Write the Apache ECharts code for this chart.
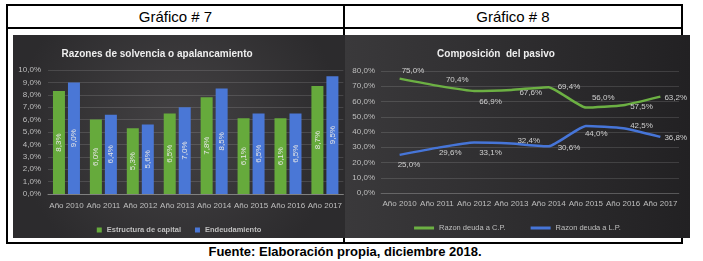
<!DOCTYPE html>
<html>
<head>
<meta charset="utf-8">
<script src="https://cdn.jsdelivr.net/npm/echarts@6/dist/echarts.min.js"></script>
<style>
  body { margin: 0; background: #fff; width: 703px; height: 261px; overflow: hidden; position: relative; font-family: "Liberation Sans", Arial, sans-serif; }
  .ln { position: absolute; background: #000; }
  .hd { position: absolute; top: 5px; height: 23px; line-height: 23px; text-align: center; font-size: 15px; color: #000; }
  #g7 { position: absolute; left: 13px; top: 35px; width: 332px; height: 203px; }
  #g8 { position: absolute; left: 345px; top: 35px; width: 345px; height: 203px; }
  #fuente { position: absolute; left: 0; width: 690px; top: 244px; text-align: center; font-weight: bold; font-size: 13px; color: #000; }
</style>
</head>
<body>
<!-- marco de la tabla -->
<div class="ln" style="left:6px;top:4px;width:677px;height:2px"></div>
<div class="ln" style="left:6px;top:27px;width:677px;height:2px"></div>
<div class="ln" style="left:6px;top:242px;width:677px;height:2px"></div>
<div class="ln" style="left:6px;top:4px;width:2px;height:240px"></div>
<div class="ln" style="left:343px;top:4px;width:2px;height:240px"></div>
<div class="ln" style="left:681px;top:4px;width:2px;height:240px"></div>
<div class="hd" style="left:8px;width:335px">Gráfico # 7</div>
<div class="hd" style="left:345px;width:336px">Gráfico # 8</div>
<div id="g7"></div>
<div id="g8"></div>
<div id="fuente">Fuente: Elaboración propia, diciembre 2018.</div>
<script>
// datos
var anios = ['Año 2010', 'Año 2011', 'Año 2012', 'Año 2013', 'Año 2014', 'Año 2015', 'Año 2016', 'Año 2017'];
var estructuraCapital = [8.3, 6.0, 5.3, 6.5, 7.8, 6.1, 6.1, 8.7];
var endeudamiento = [9.0, 6.4, 5.6, 7.0, 8.5, 6.5, 6.5, 9.5];
var deudaCP = [75.0, 70.4, 66.9, 67.6, 69.4, 56.0, 57.5, 63.2];
var deudaLP = [25.0, 29.6, 33.1, 32.4, 30.6, 44.0, 42.5, 36.8];

// desplazamiento de etiquetas (estilo)
var offCP = [[-2, -8], [5, -6], [1, 11], [4, 3], [5, 0], [2, -10], [3, 1], [0, 1]];
var offLP = [[-6, 10], [-2, 5], [1, 10], [2, -3], [5, 1], [-5, 8], [3, -2], [0, 1]];

function pct(v) {
    return v.toFixed(1).replace('.', ',') + '%';
}

var txt = '#bfbfbf';
var grisLinea = 'rgba(255,255,255,0.13)';

// Gráfico 7
var chart7 = echarts.init(document.getElementById('g7'));
chart7.setOption({
    animation: false,
    backgroundColor: new echarts.graphic.RadialGradient(0.5, 0.45, 0.8, [
        { offset: 0, color: '#444244' },
        { offset: 1, color: '#2c2b2d' }
    ]),
    title: {
        text: 'Razones de solvencia o apalancamiento',
        left: 139,
        textAlign: 'center',
        top: 9,
        textStyle: { color: '#eeeeee', fontSize: 10, fontWeight: 'bold', fontFamily: 'Liberation Sans' }
    },
    grid: { left: 35, right: 1, top: 35, bottom: 44 },
    legend: {
        data: ['Estructura de capital', 'Endeudamiento'],
        left: 'center',
        top: 186,
        icon: 'rect',
        itemWidth: 5,
        itemHeight: 5,
        itemGap: 14,
        textStyle: { color: txt, fontSize: 7.5, fontWeight: 'bold', fontFamily: 'Liberation Sans' }
    },
    xAxis: {
        type: 'category',
        data: anios,
        axisTick: { show: false },
        axisLine: { lineStyle: { color: '#808080' } },
        axisLabel: { interval: 0, color: txt, fontSize: 8, margin: 8, fontFamily: 'Liberation Sans' }
    },
    yAxis: {
        type: 'value',
        min: 0,
        max: 10,
        interval: 1,
        axisLabel: { color: txt, fontSize: 8, margin: 7, fontFamily: 'Liberation Sans', formatter: pct },
        splitLine: { lineStyle: { color: grisLinea } }
    },
    series: [{
        name: 'Estructura de capital',
        type: 'bar',
        data: estructuraCapital,
        barWidth: 12,
        barGap: '25%',
        itemStyle: { color: '#66aa3c' },
        label: {
            show: true, position: 'inside', rotate: 90, color: '#e6e6e6', fontSize: 8,
            fontFamily: 'Liberation Sans',
            formatter: function (p) { return pct(p.value); }
        }
    }, {
        name: 'Endeudamiento',
        type: 'bar',
        data: endeudamiento,
        barWidth: 12,
        itemStyle: { color: '#4a77d6' },
        label: {
            show: true, position: 'inside', rotate: 90, color: '#e6e6e6', fontSize: 8,
            fontFamily: 'Liberation Sans',
            formatter: function (p) { return pct(p.value); }
        }
    }]
});

// Gráfico 8
function puntos(vals, offs) {
    return vals.map(function (v, i) {
        return { value: v, label: { offset: offs[i] } };
    });
}

var chart8 = echarts.init(document.getElementById('g8'));
chart8.setOption({
    animation: false,
    backgroundColor: new echarts.graphic.LinearGradient(0, 0, 1, 0, [
        { offset: 0, color: '#3a393b' },
        { offset: 1, color: '#222123' }
    ]),
    title: {
        text: 'Composición  del pasivo',
        left: 146,
        textAlign: 'center',
        top: 9,
        textStyle: { color: '#eeeeee', fontSize: 10, fontWeight: 'bold', fontFamily: 'Liberation Sans' }
    },
    grid: { left: 36, right: 11, top: 36, bottom: 45 },
    legend: {
        data: ['Razon deuda a C.P.', 'Razon deuda a L.P.'],
        left: 'center',
        top: 184,
        icon: 'rect',
        itemWidth: 20,
        itemHeight: 3,
        itemGap: 25,
        textStyle: { color: txt, fontSize: 7.5, fontFamily: 'Liberation Sans' }
    },
    xAxis: {
        type: 'category',
        data: anios,
        axisTick: { show: false },
        axisLine: { lineStyle: { color: grisLinea } },
        axisLabel: { interval: 0, color: txt, fontSize: 8, margin: 7, fontFamily: 'Liberation Sans' }
    },
    yAxis: {
        type: 'value',
        min: 0,
        max: 80,
        interval: 10,
        axisLabel: { color: txt, fontSize: 8, margin: 6, fontFamily: 'Liberation Sans', formatter: pct },
        splitLine: { lineStyle: { color: grisLinea } }
    },
    series: [{
        name: 'Razon deuda a C.P.',
        type: 'line',
        smooth: 0.15,
        showSymbol: true,
        symbol: 'circle',
        symbolSize: 0,
        data: puntos(deudaCP, offCP),
        itemStyle: { color: '#6cb043' },
        lineStyle: { color: '#6cb043', width: 2.5 },
        label: {
            show: true, position: 'right', distance: 4, color: '#d0d0d0', fontSize: 8,
            fontFamily: 'Liberation Sans',
            formatter: function (p) { return pct(p.value); }
        }
    }, {
        name: 'Razon deuda a L.P.',
        type: 'line',
        smooth: 0.15,
        showSymbol: true,
        symbol: 'circle',
        symbolSize: 0,
        data: puntos(deudaLP, offLP),
        itemStyle: { color: '#4675d8' },
        lineStyle: { color: '#4675d8', width: 2.5 },
        label: {
            show: true, position: 'right', distance: 4, color: '#d0d0d0', fontSize: 8,
            fontFamily: 'Liberation Sans',
            formatter: function (p) { return pct(p.value); }
        }
    }]
});
</script>
</body>
</html>
